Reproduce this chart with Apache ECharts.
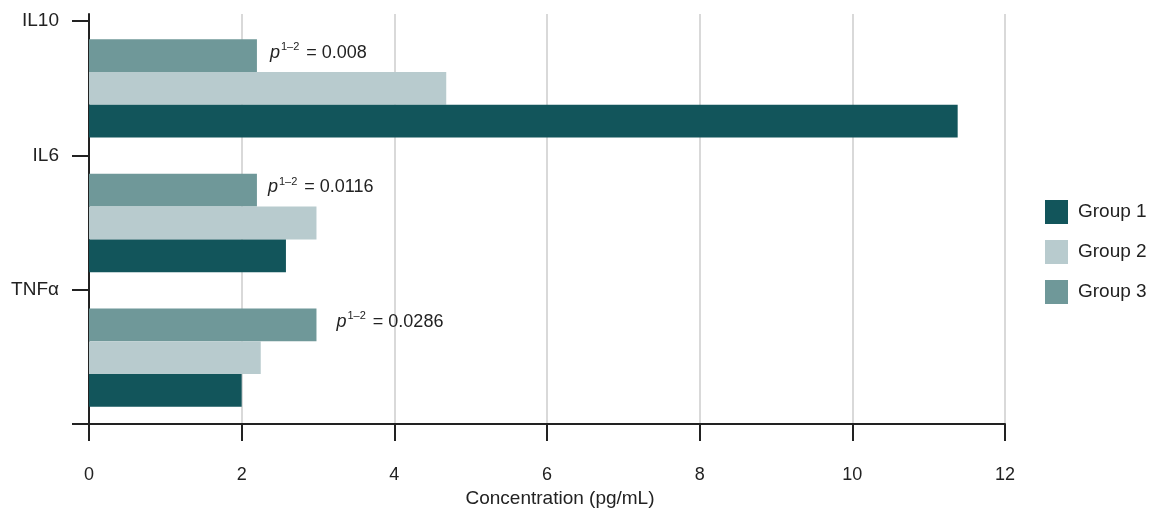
<!DOCTYPE html>
<html>
<head>
<meta charset="utf-8">
<script src="https://cdn.jsdelivr.net/npm/echarts@6/dist/echarts.min.js"></script>
<style>html,body{margin:0;padding:0;background:#fff;}#c{width:1151px;height:513px;}</style>
</head>
<body>
<div id="c"></div>
<script>
// categories listed top to bottom
const categories = ['IL10', 'IL6', 'TNFα'];
const group1 = [11.38, 2.58, 2.0];
const group2 = [4.68, 2.98, 2.25];
const group3 = [2.2, 2.2, 2.98];
const pValues = ['0.008', '0.0116', '0.0286'];
const seriesNames = ['Group 1', 'Group 2', 'Group 3'];
const xTicks = [0, 2, 4, 6, 8, 10, 12];

const FONT = '"Liberation Sans", Arial, Helvetica, sans-serif';
const TXT = '#222';
const colors = ['#12555b', '#b8cbce', '#6f9899'];
const labelDist = [13, 11, 20];

const rev = a => a.slice().reverse();
const nCat = categories.length;

// layout: bar area top 21, axis frame top 14 (7px headroom above first band)
const plotTop = 21, frameTop = 14, plotBottom = 88, plotLeft = 89, plotRight = 146;
const bandPx = (513 - plotBottom - plotTop) / nCat;
const headroom = (plotTop - frameTop) / bandPx;

const g3data = group3.map((v, i) => ({
  value: v,
  label: {
    show: true,
    position: 'right',
    distance: labelDist[i],
    offset: [0, -4],
    formatter: '{i|p}{s|1–2}{t| = ' + pValues[i] + '}',
    rich: {
      i: { fontFamily: FONT, fontSize: 18, fontStyle: 'italic', color: TXT, lineHeight: 20, verticalAlign: 'bottom' },
      s: { fontFamily: FONT, fontSize: 11, color: TXT, lineHeight: 20, verticalAlign: 'top', padding: [0, 2, 0, 1] },
      t: { fontFamily: FONT, fontSize: 18, color: TXT, lineHeight: 20, verticalAlign: 'bottom' }
    }
  }
}));

const axisStroke = { color: '#222', width: 2 };
const boundaryTicks = Array.from({ length: nCat + 1 }, (_, i) => i);

const chart = echarts.init(document.getElementById('c'), null, { renderer: 'canvas' });
chart.setOption({
  animation: false,
  backgroundColor: '#fff',
  textStyle: { fontFamily: FONT },
  grid: [
    { left: plotLeft, right: plotRight, top: plotTop, bottom: plotBottom, containLabel: false },
    { left: plotLeft, right: plotRight, top: frameTop, bottom: plotBottom, containLabel: false }
  ],
  legend: {
    orient: 'vertical',
    left: 1040,
    top: 195,
    itemWidth: 23,
    itemHeight: 24,
    itemGap: 16,
    icon: 'rect',
    data: seriesNames,
    textStyle: { fontFamily: FONT, fontSize: 19, color: TXT, padding: [0, 0, 0, 5] }
  },
  xAxis: [
    { gridIndex: 0, type: 'value', min: 0, max: 12, interval: 2, show: false },
    {
      gridIndex: 1,
      type: 'value',
      min: 0,
      max: 12,
      interval: 2,
      name: 'Concentration (pg/mL)',
      nameLocation: 'middle',
      nameGap: 64,
      nameTextStyle: { fontFamily: FONT, fontSize: 19, color: TXT, padding: [0, 0, 0, 26] },
      axisLine: { show: true, lineStyle: axisStroke },
      axisTick: { show: true, length: 17, lineStyle: axisStroke },
      axisLabel: { margin: 42, fontFamily: FONT, fontSize: 18, color: TXT,
        formatter: v => (xTicks.indexOf(v) >= 0 ? String(v) : '') },
      splitLine: { show: true, lineStyle: { color: '#d9d9d9', width: 2 } }
    }
  ],
  yAxis: [
    { gridIndex: 0, type: 'category', data: rev(categories), show: false },
    {
      // boundary axis: ticks at band edges, labels at the top edge of each band
      gridIndex: 1,
      type: 'value',
      position: 'left',
      min: 0,
      max: nCat + headroom,
      interval: 1,
      axisLine: { show: true, lineStyle: axisStroke },
      axisTick: { show: true, length: 17, lineStyle: axisStroke, customValues: boundaryTicks },
      axisLabel: { margin: 30, fontFamily: FONT, fontSize: 19, color: TXT,
        customValues: boundaryTicks.slice(1),
        formatter: v => categories[nCat - Math.round(v)] || '' },
      splitLine: { show: false }
    }
  ],
  series: [
    { name: 'Group 3', type: 'bar', xAxisIndex: 0, yAxisIndex: 0, data: rev(g3data), itemStyle: { color: colors[2] }, barGap: '0%', barCategoryGap: '27%' },
    { name: 'Group 2', type: 'bar', xAxisIndex: 0, yAxisIndex: 0, data: rev(group2), itemStyle: { color: colors[1] }, barGap: '0%', barCategoryGap: '27%' },
    { name: 'Group 1', type: 'bar', xAxisIndex: 0, yAxisIndex: 0, data: rev(group1), itemStyle: { color: colors[0] }, barGap: '0%', barCategoryGap: '27%' }
  ]
});
</script>
</body>
</html>
